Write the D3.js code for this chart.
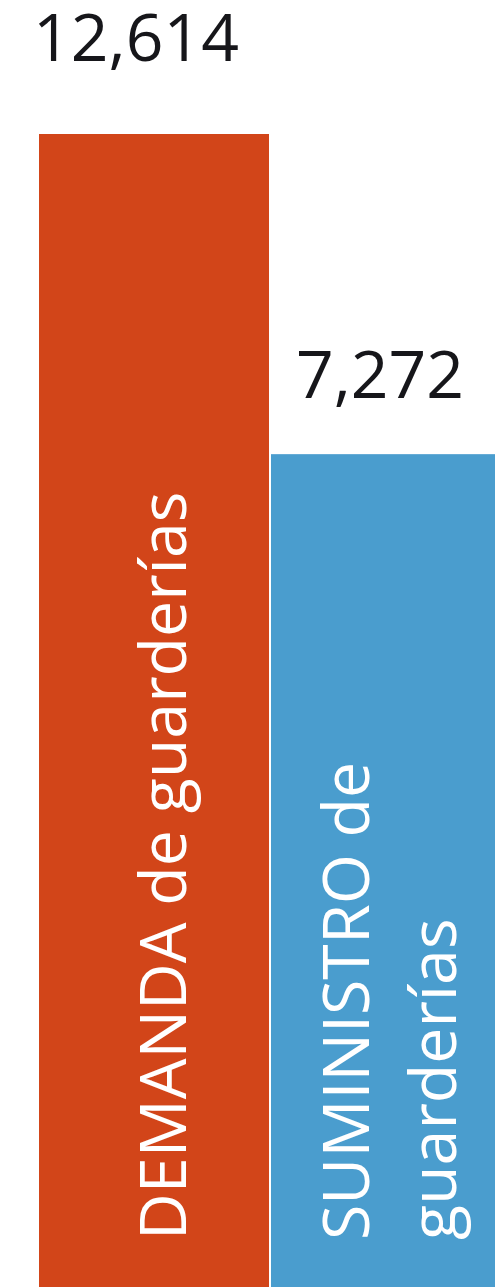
<!DOCTYPE html>
<html lang="es">
<head>
<meta charset="UTF-8">
<title>Demanda y suministro de guarderías</title>
<script src="https://d3js.org/d3.v7.min.js"></script>
<style>
  html, body { margin: 0; padding: 0; background: #fff; }
  svg { display: block; }
  .value { font: 66px "Open Sans", sans-serif; fill: #16161a; text-anchor: middle; }
  .cat { font: 64.5px "Open Sans", sans-serif; fill: #fff; }
</style>
</head>
<body>
<script>
// data
const categories = ["DEMANDA de guarderías", "SUMINISTRO de guarderías"];
const values = [12614, 7272];
const valueLabels = ["12,614", "7,272"];
// label broken into lines the way the original wraps it
const categoryLines = [["DEMANDA de guarderías"], ["SUMINISTRO de", "guarderías"]];
const colors = ["#d24519", "#4a9dce"];

const width = 495, height = 1287;

const svg = d3.select("body").append("svg")
    .attr("width", width)
    .attr("height", height);

// the picture is cropped: the bars run past the bottom edge
const x = d3.scaleBand()
    .domain(categories)
    .range([39, 501])
    .paddingInner(2 / 232)
    .paddingOuter(0);

const y = d3.scaleLinear()
    .domain([0, 12614])
    .range([890, 134]);

svg.selectAll(".bar")
    .data(categories)
    .enter().append("rect")
    .attr("class", "bar")
    .attr("x", d => x(d))
    .attr("width", x.bandwidth())
    .attr("y", (d, i) => y(values[i]))
    .attr("height", (d, i) => height - y(values[i]))
    .attr("fill", (d, i) => colors[i]);

// value labels above the bars
const labelShift = [-18, -6];
const labelLift = [73, 56];
svg.selectAll(".value")
    .data(categories)
    .enter().append("text")
    .attr("class", "value")
    .attr("x", (d, i) => x(d) + x.bandwidth() / 2 + labelShift[i])
    .attr("y", (d, i) => y(values[i]) - labelLift[i])
    .text((d, i) => valueLabels[i]);

// rotated category names inside the bars
const lineHeight = 87;
const cat = svg.selectAll(".catg")
    .data(categories)
    .enter().append("g")
    .attr("class", "catg")
    .attr("transform", d => "translate(" + (x(d) + x.bandwidth() / 2) + "," + 1240 + ") rotate(-90)");

cat.each(function (d, i) {
    const lines = categoryLines[i];
    const base = 32 - 5.5 * (lines.length - 1);
    const t = d3.select(this).append("text").attr("class", "cat");
    lines.forEach((ln, k) => {
        t.append("tspan")
            .attr("x", 0)
            .attr("y", base + (k - (lines.length - 1) / 2) * lineHeight)
            .text(ln);
    });
});
</script>
</body>
</html>
